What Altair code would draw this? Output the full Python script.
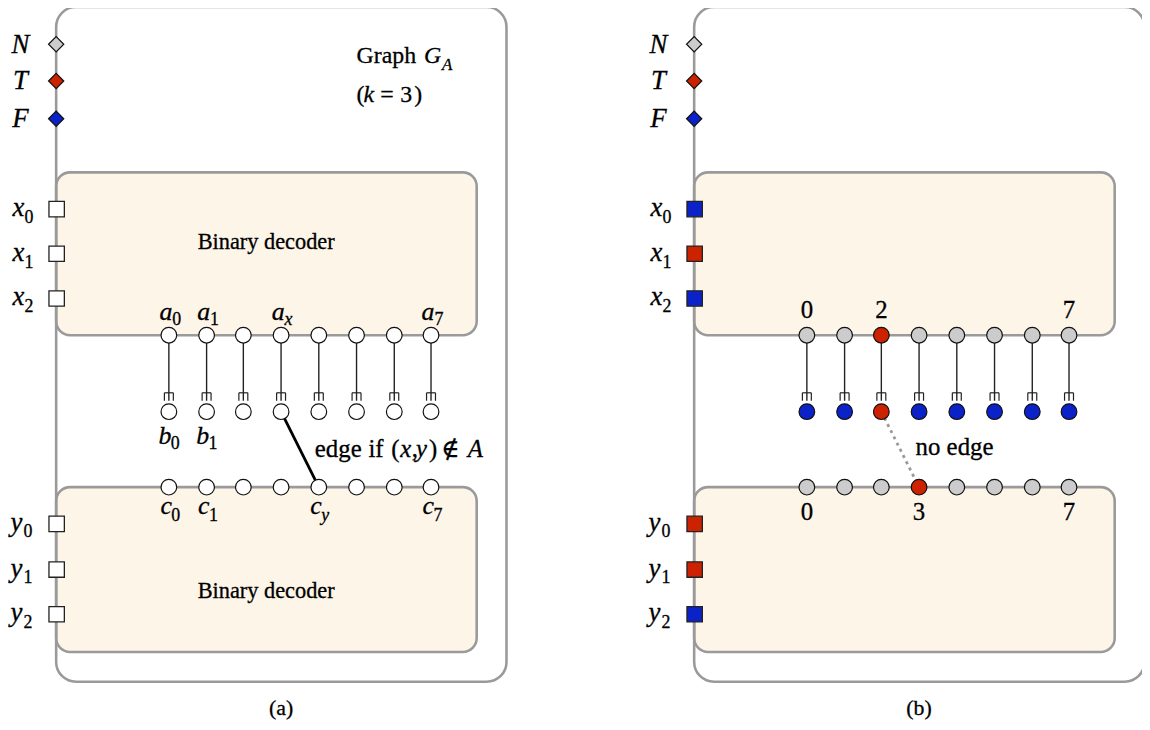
import altair as alt
import pandas as pd

# ---------------- values ----------------
PANEL_NAMES = ["(a)", "(b)"]
PANEL_DX = [0.0, 642.5]            # panel (b) is panel (a) shifted right
CAPTION_X = 283
CAPTION_BASE = 717

OUTER_BOX = [56.5, 510, 4.5, 684]          # x, x2, y, y2
DECODER_BOXES = [[56.5, 480, 171, 335],    # top decoder (x inputs)
                 [56.5, 480, 488, 654]]    # bottom decoder (y inputs)
DECODER_TEXT = "Binary decoder"
DECODER_TEXT_Y = [240, 592]

NODE_IDX = [0, 1, 2, 3, 4, 5, 6, 7]
NODE_X = [170, 208, 245, 283, 321, 359, 397, 434]
ROW_A_Y = 335
ROW_B_Y = 412
ROW_C_Y = 488

PORT_NAMES = ["N", "T", "F"]
PORT_Y = [42, 79, 117]
X_IN_Y = [208, 253, 298]
Y_IN_Y = [525, 571, 616]

# panel (a) node labels
A_LABELED = [0, 1, 3, 7]
A_SUBS = ["0", "1", "x", "7"]
B_LABELED = [0, 1]
B_SUBS = ["0", "1"]
C_LABELED = [0, 1, 4, 7]
C_SUBS = ["0", "1", "y", "7"]
EDGE_FROM_B = 3
EDGE_TO_C = 4

# panel (b) assignment
X_BITS = ["F", "T", "F"]
Y_BITS = ["T", "T", "F"]
A_HIT = 2
C_HIT = 3
TOP_NUMS = [0, 2, 7]
BOT_NUMS = [0, 3, 7]

COLORS = {"N": "#cccccc", "T": "#cc2200", "F": "#0a22c8", "W": "#ffffff"}
CREAM = "#fdf5e8"
BOX_GRAY = "#9a9a9a"
SERIF = "Liberation Serif, Times New Roman, DejaVu Serif, serif"

# ---------------- scales ----------------
W, H = 1142, 714
XS = alt.Scale(domain=[8, 8 + W], nice=False, zero=False)
YS = alt.Scale(domain=[8, 8 + H], nice=False, zero=False, reverse=True)


def X(f="x"):
    return alt.X(f"{f}:Q", scale=XS, axis=None)


def Y(f="y"):
    return alt.Y(f"{f}:Q", scale=YS, axis=None)


def rules(rows, **mark):
    df = pd.DataFrame(rows, columns=["x", "y", "x2", "y2"])
    return alt.Chart(df).mark_rule(**mark).encode(
        x=X(), y=Y(), x2=alt.X2("x2"), y2=alt.Y2("y2"))


def points(rows, shape, size, stroke="#111", sw=1.2):
    df = pd.DataFrame(rows, columns=["x", "y", "fill"])
    return alt.Chart(df).mark_point(
        shape=shape, filled=True, size=size, stroke=stroke, strokeWidth=sw,
        opacity=1, fillOpacity=1, strokeOpacity=1
    ).encode(x=X(), y=Y(), fill=alt.Fill("fill:N", scale=None))


def texts(rows, align="center", italic=False, baseline="alphabetic"):
    df = pd.DataFrame(rows, columns=["x", "y", "t", "s"])
    return alt.Chart(df).mark_text(
        align=align, baseline=baseline, font=SERIF,
        fontStyle="italic" if italic else "normal", color="#000",
        stroke="#000", strokeWidth=0.3
    ).encode(x=X(), y=Y(), text="t:N", size=alt.Size("s:Q", scale=None))


layers = []

# decoder boxes (cream) then outer boxes on top
dec_rows, outer_rows = [], []
for dx in PANEL_DX:
    for b in DECODER_BOXES:
        dec_rows.append([b[0] + dx, b[1] + dx, b[2], b[3]])
    outer_rows.append([OUTER_BOX[0] + dx, OUTER_BOX[1] + dx, OUTER_BOX[2], OUTER_BOX[3]])
dec_df = pd.DataFrame(dec_rows, columns=["x", "x2", "y", "y2"])
layers.append(alt.Chart(dec_df).mark_rect(
    fill=CREAM, stroke=BOX_GRAY, strokeWidth=2.6, cornerRadius=14, opacity=1
).encode(x=X(), x2=alt.X2("x2"), y=Y(), y2=alt.Y2("y2")))
out_df = pd.DataFrame(outer_rows, columns=["x", "x2", "y", "y2"])
layers.append(alt.Chart(out_df).mark_rect(
    fill="#ffffff", fillOpacity=0, stroke=BOX_GRAY, strokeWidth=2.6, cornerRadius=20
).encode(x=X(), x2=alt.X2("x2"), y=Y(), y2=alt.Y2("y2")))

# connectors a -> b with small comb ends
conn, comb = [], []
for dx in PANEL_DX:
    for nx in NODE_X:
        x = nx + dx
        conn.append([x, ROW_A_Y, x, ROW_B_Y - 11])
        comb.append([x - 4.5, ROW_B_Y - 19, x + 4.5, ROW_B_Y - 19])
        comb.append([x - 4.5, ROW_B_Y - 19, x - 4.5, ROW_B_Y - 11])
        comb.append([x + 4.5, ROW_B_Y - 19, x + 4.5, ROW_B_Y - 11])
layers.append(rules(conn, color="#222222", strokeWidth=1.4))
layers.append(rules(comb, color="#222222", strokeWidth=1.2))

# edge in (a), dotted "no edge" in (b)
layers.append(rules([[NODE_X[EDGE_FROM_B], ROW_B_Y, NODE_X[EDGE_TO_C], ROW_C_Y]],
                    color="#000000", strokeWidth=2.8))
layers.append(rules([[NODE_X[A_HIT] + PANEL_DX[1], ROW_B_Y, NODE_X[C_HIT] + PANEL_DX[1], ROW_C_Y]],
                    color="#999999", strokeWidth=2.8, strokeDash=[3, 4]))

# nodes
node_rows = []
for i, nx in zip(NODE_IDX, NODE_X):
    for yy in (ROW_A_Y, ROW_B_Y, ROW_C_Y):
        node_rows.append([nx, yy, COLORS["W"]])
    x = nx + PANEL_DX[1]
    node_rows.append([x, ROW_A_Y, COLORS["T"] if i == A_HIT else COLORS["N"]])
    node_rows.append([x, ROW_B_Y, COLORS["T"] if i == A_HIT else COLORS["F"]])
    node_rows.append([x, ROW_C_Y, COLORS["T"] if i == C_HIT else COLORS["N"]])
layers.append(points(node_rows, "circle", 250))

# ports: diamonds N/T/F and input squares
dia_rows, sq_rows = [], []
for dx in PANEL_DX:
    for name, yy in zip(PORT_NAMES, PORT_Y):
        dia_rows.append([56.5 + dx, yy, COLORS[name]])
for yy in X_IN_Y + Y_IN_Y:
    sq_rows.append([57, yy, COLORS["W"]])
for bit, yy in zip(X_BITS, X_IN_Y):
    sq_rows.append([57 + PANEL_DX[1], yy, COLORS[bit]])
for bit, yy in zip(Y_BITS, Y_IN_Y):
    sq_rows.append([57 + PANEL_DX[1], yy, COLORS[bit]])
layers.append(points(dia_rows, "diamond", 235))
layers.append(points(sq_rows, "square", 240, stroke="#222", sw=1.3))

# ---------------- text ----------------
it_c, reg_c, it_r, it_l, reg_l = [], [], [], [], []
for dx in PANEL_DX:
    for name, yy in zip(PORT_NAMES, PORT_Y):
        it_c.append([20.5 + dx, yy + 8.5, name, 27])
    for k, yy in enumerate(X_IN_Y):
        it_c.append([18.5 + dx, yy + 7, "x", 27])
        reg_c.append([29 + dx, yy + 14, str(k), 18])
    for k, yy in enumerate(Y_IN_Y):
        it_c.append([16.5 + dx, yy + 7, "y", 27])
        reg_c.append([28 + dx, yy + 13.5, str(k), 18])

for i, s in zip(A_LABELED, A_SUBS):
    it_r.append([NODE_X[i] + 3.5, 320, "a", 26])
    (it_l if s.isalpha() else reg_l).append([NODE_X[i] + 3.5, 324.5, s, 18])
for i, s in zip(B_LABELED, B_SUBS):
    it_r.append([NODE_X[i] + 2.5, 445, "b", 26])
    reg_l.append([NODE_X[i] + 2, 449.5, s, 18])
for i, s in zip(C_LABELED, C_SUBS):
    it_r.append([NODE_X[i] + 3, 515, "c", 26])
    (it_l if s.isalpha() else reg_l).append([NODE_X[i] + 2.5, 522.5, s, 18])

for i in TOP_NUMS:
    reg_c.append([NODE_X[i] + PANEL_DX[1], 318, str(i), 25])
for i in BOT_NUMS:
    reg_c.append([NODE_X[i] + PANEL_DX[1], 521.5, str(i), 25])

for yy in DECODER_TEXT_Y:
    reg_c.append([268, yy + 8, DECODER_TEXT, 22.5])

for dx, name in zip(PANEL_DX, PANEL_NAMES):
    reg_c.append([CAPTION_X + dx, CAPTION_BASE, name, 22])

# Graph G_A (k = 3)
reg_l.append([359, 61, "Graph", 24])
it_l.append([427, 61, "G", 24])
it_l.append([445, 67.5, "A", 17])
reg_l.append([359, 100, "(", 24])
it_l.append([366, 100, "k", 24])
reg_l.append([383, 100, "=", 24])
reg_l.append([403, 100, "3", 24])
reg_l.append([417, 100, ")", 24])

# edge if (x,y) ∉ A
reg_l.append([317, 458, "edge", 25])
reg_l.append([371, 458, "if", 25])
reg_l.append([394, 458, "(", 25])
it_l.append([403, 458, "x", 25])
reg_l.append([414.5, 458, ",", 25])
it_l.append([419, 458, "y", 25])
reg_l.append([432, 458, ")", 25])
reg_l.append([444, 458, "\u2209", 25])
it_l.append([471, 458, "A", 25])

# no edge
reg_l.append([922, 456, "no edge", 25])

layers.append(texts(it_c, "center", True))
layers.append(texts(reg_c, "center", False))
layers.append(texts(it_r, "right", True))
layers.append(texts(it_l, "left", True))
layers.append(texts(reg_l, "left", False))

chart = alt.layer(*layers).properties(
    width=W, height=H, padding=0,
    autosize=alt.AutoSizeParams(type="none"),
).configure_view(stroke=None)

chart.save("out.html", embed_options={"renderer": "svg", "actions": False})
